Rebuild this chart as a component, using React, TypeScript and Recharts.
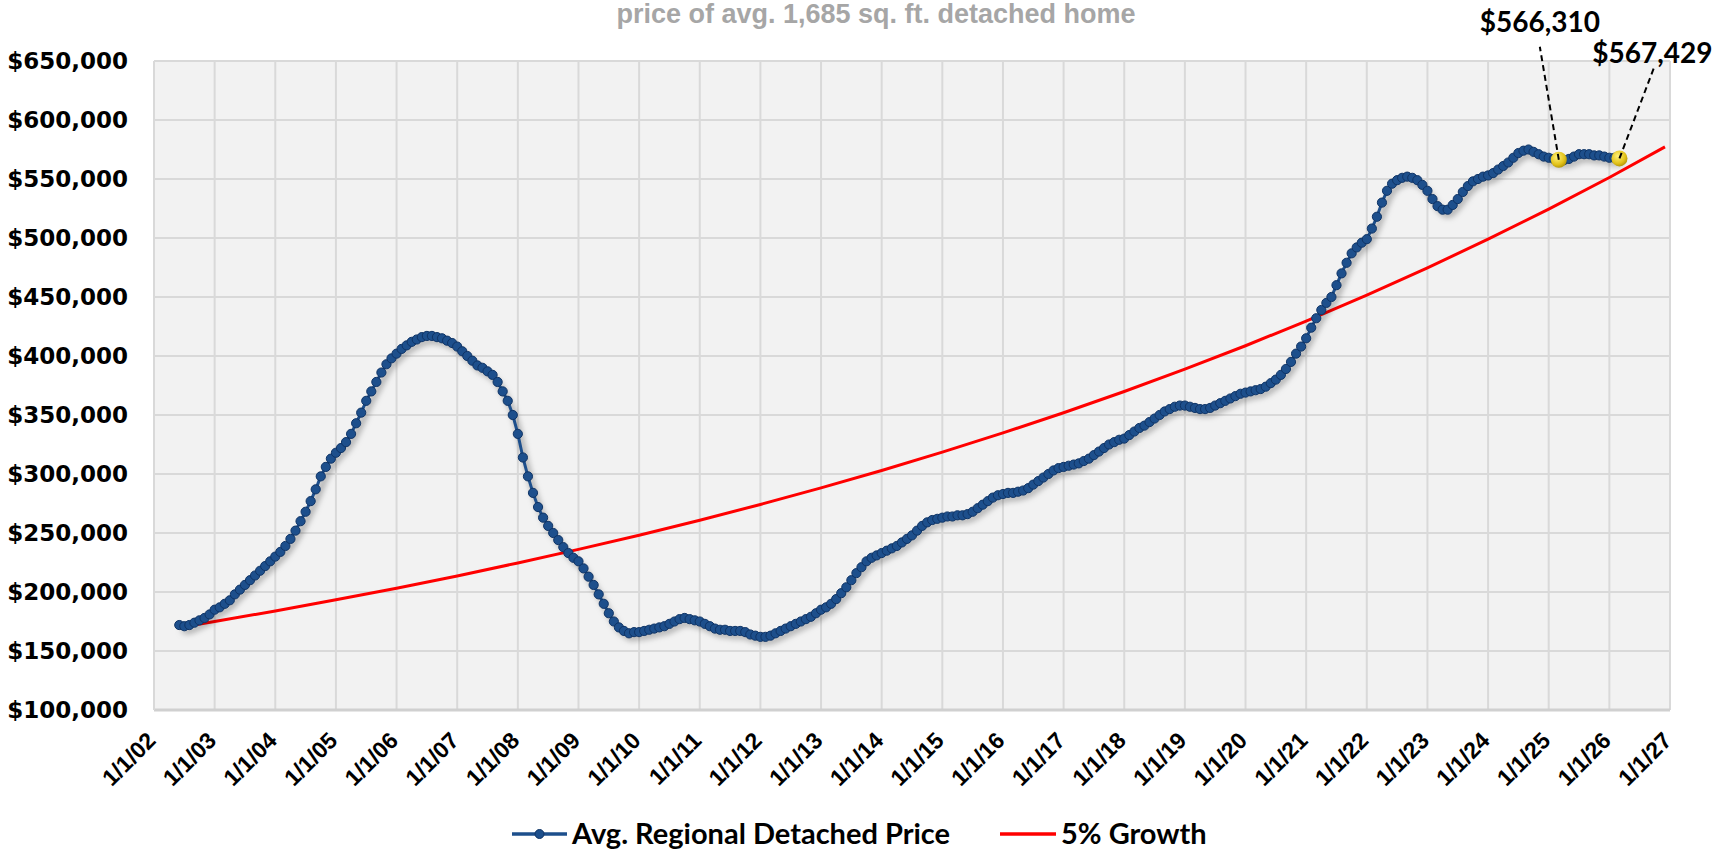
import React from 'react';
import { LineChart, Line, XAxis, YAxis, CartesianGrid } from 'recharts';

const TITLE = 'price of avg. 1,685 sq. ft. detached home';
const SERIES_PRICE = 'Avg. Regional Detached Price';
const SERIES_GROWTH = '5% Growth';

// monthly series, first value = June 2002
const START_YEAR = 2002;
const START_MONTH = 6;
const priceK = [
  172, 171, 172, 174, 176, 178, 181,
  185, 187, 190, 193, 198, 202, 206, 210, 214, 218, 222, 226,
  230, 234, 239, 245, 252, 260, 268, 277, 287, 298, 306, 313,
  318, 322, 327, 334, 343, 352, 362, 370, 378, 386, 393, 398,
  402, 406, 409, 412, 414, 416, 417, 417, 416, 415, 413, 411,
  408, 404, 400, 396, 392, 390, 387, 384, 378, 370, 362, 350,
  334, 314, 298, 284, 272, 263, 256, 250, 244, 238, 233, 229,
  226, 220, 213, 206, 198, 190, 182, 175, 170, 167, 165, 166,
  166, 167, 168, 169, 170, 171, 173, 175, 177, 178, 177, 176,
  175, 173, 171, 169, 168, 168, 167, 167, 167, 166, 164, 163,
  162, 162, 163, 165, 167, 169, 171, 173, 175, 177, 179, 182,
  185, 187, 190, 194, 199, 204, 210, 216, 221, 226, 229, 231,
  233, 235, 237, 239, 242, 245, 248, 252, 256, 259, 261, 262,
  263, 264, 264, 265, 265, 266, 268, 271, 274, 277, 280, 282,
  283, 284, 284, 285, 286, 288, 291, 294, 297, 300, 303, 305,
  306, 307, 308, 309, 311, 313, 316, 319, 322, 325, 327, 329,
  330, 333, 336, 339, 341, 344, 347, 350, 353, 355, 357, 358,
  358, 357, 356, 355, 355, 356, 358, 360, 362, 364, 366, 368,
  369, 370, 371, 372, 374, 377, 380, 384, 389, 395, 402, 408,
  415, 424, 432, 439, 445, 450, 460, 470, 479, 487, 492, 496,
  499, 508, 518, 530, 540, 546, 549, 551, 552, 551, 549, 545,
  540, 533, 527, 524, 524, 528, 533, 539, 544, 548, 550, 552,
  553, 555, 558, 561, 564, 568, 572, 574, 575, 573, 571, 569,
  568, 567, 566.31, 566, 567, 569, 571, 571, 571, 570, 570, 569,
  568, 568, 567.429,
];

const growthYears = [2002.417, 2003, 2004, 2005, 2006, 2007, 2008, 2009, 2010, 2011, 2012, 2013, 2014, 2015, 2016, 2017, 2018, 2019, 2020, 2021, 2022, 2023, 2024, 2025, 2026, 2026.917];
const growthK = [170.0, 175.0, 183.9, 193.4, 203.2, 213.6, 224.6, 236.1, 248.1, 260.8, 274.2, 288.2, 303.0, 318.5, 334.8, 351.9, 369.9, 388.8, 408.7, 429.6, 451.6, 474.7, 499.0, 524.5, 551.3, 577.2];

const xTickYears = [2002, 2003, 2004, 2005, 2006, 2007, 2008, 2009, 2010, 2011, 2012, 2013, 2014, 2015, 2016, 2017, 2018, 2019, 2020, 2021, 2022, 2023, 2024, 2025, 2026, 2027];
const yTicks = [100000, 150000, 200000, 250000, 300000, 350000, 400000, 450000, 500000, 550000, 600000, 650000];

const highlightMonths = ['2025-03', '2026-03'];
const highlightLabels = ['$566,310', '$567,429'];

const priceData = priceK.map((v, i) => {
  const m0 = START_MONTH - 1 + i;
  const year = START_YEAR + Math.floor(m0 / 12);
  const month = (m0 % 12) + 1;
  const key = `${year}-${String(month).padStart(2, '0')}`;
  const hi = highlightMonths.indexOf(key);
  return {
    x: year + (month - 1) / 12,
    price: v * 1000,
    hl: hi >= 0 ? v * 1000 : null,
    hlIndex: hi,
  };
});

const growthData = growthYears.map((x, i) => ({ x, growth: growthK[i] * 1000 }));

const BLUE = '#1d4f8c';
const BLUE_EDGE = '#0f3466';
const RED = '#ff0000';

const fmtMoney = (v: number) => '$' + v.toLocaleString('en-US');
const fmtYear = (y: number) => `1/1/${String(y % 100).padStart(2, '0')}`;

const YTick = (props: any) => {
  const { x, y, payload } = props;
  return (
    <text x={x - 26} y={y} textAnchor="end" dominantBaseline="central"
      fontFamily="DejaVu Sans" fontWeight="bold" fontSize={23} fill="#000">
      {fmtMoney(payload.value)}
    </text>
  );
};

const XTick = (props: any) => {
  const { x, y, payload } = props;
  return (
    <text transform={`translate(${x + 3},${y + 32}) rotate(-45)`} textAnchor="end"
      fontFamily="Liberation Sans" fontWeight="bold" fontSize={23} fill="#000">
      {fmtYear(payload.value)}
    </text>
  );
};

const PriceDot = (props: any) => {
  const { cx, cy, index } = props;
  if (cx == null || cy == null) return <g key={`pd${index}`} />;
  return <circle key={`pd${index}`} cx={cx} cy={cy} r={4.6} fill={BLUE} stroke={BLUE_EDGE} strokeWidth={1} />;
};

const annotationOffsets = [
  { lx: -19, ly: -113, tx: -19, ty: -128 },
  { lx: 35, ly: -92, tx: 33, ty: -95 },
];

const HighlightDot = (props: any) => {
  const { cx, cy, index, payload } = props;
  if (cx == null || cy == null || payload.hlIndex < 0) return <g key={`hd${index}`} />;
  const o = annotationOffsets[payload.hlIndex];
  return (
    <g key={`hd${index}`}>
      <defs>
        <radialGradient id={`yg${index}`} cx="40%" cy="35%" r="65%">
          <stop offset="0%" stopColor="#fff27a" />
          <stop offset="70%" stopColor="#e2c21a" />
          <stop offset="100%" stopColor="#b89a08" />
        </radialGradient>
      </defs>
      <circle cx={cx} cy={cy} r={8} fill={`url(#yg${index})`} />
      <line x1={cx} y1={cy} x2={cx + o.lx} y2={cy + o.ly} stroke="#000" strokeWidth={2} strokeDasharray="6 4" />
      <text x={cx + o.tx} y={cy + o.ty} textAnchor="middle" fontFamily="Lato" fontWeight="bold" fontSize={28} fill="#000">
        {highlightLabels[payload.hlIndex]}
      </text>
    </g>
  );
};

export default function App() {
  return (
    <div style={{ position: 'fixed', left: 0, top: 0, width: 1728, height: 851, background: '#fff', overflow: 'hidden' }}>
      <style>{`.price-line { filter: drop-shadow(3px 5px 3px rgba(0,0,0,0.55)); }`}</style>
      <LineChart width={1728} height={851} margin={{ top: 61, right: 58, left: 0, bottom: 0 }}>
        <CartesianGrid fill="#f2f2f2" stroke="#d9d9d9" strokeWidth={2} />
        <XAxis type="number" dataKey="x" domain={[2002, 2027]} ticks={xTickYears} height={141}
          tick={<XTick />} tickLine={false} tickSize={0} tickMargin={0} interval={0}
          axisLine={{ stroke: '#d0d0d0', strokeWidth: 3 }} />
        <YAxis type="number" domain={[100000, 650000]} ticks={yTicks} width={154}
          tick={<YTick />} tickLine={false} tickSize={0} tickMargin={0}
          axisLine={{ stroke: '#d9d9d9', strokeWidth: 2 }} interval={0} />
        <Line data={growthData} dataKey="growth" name={SERIES_GROWTH} type="linear" stroke={RED}
          strokeWidth={3} dot={false} activeDot={false} isAnimationActive={false} />
        <Line data={priceData} dataKey="price" name={SERIES_PRICE} type="linear" stroke={BLUE}
          strokeWidth={3} dot={<PriceDot />} activeDot={false} isAnimationActive={false} className="price-line" />
        <Line data={priceData} dataKey="hl" type="linear" stroke="none" legendType="none"
          dot={<HighlightDot />} activeDot={false} isAnimationActive={false} />
      </LineChart>
      <svg width={1728} height={851} style={{ position: 'absolute', left: 0, top: 0, pointerEvents: 'none' }}>
        <text x={876} y={23} textAnchor="middle" fontFamily="Liberation Sans" fontWeight="bold" fontSize={27} fill="#a6a6a6">
          {TITLE}
        </text>
        <line x1={512} y1={834} x2={567} y2={834} stroke={BLUE} strokeWidth={3.5} />
        <circle cx={539.5} cy={834} r={4.5} fill={BLUE} stroke={BLUE_EDGE} />
        <text x={572} y={844} fontFamily="Lato" fontWeight="bold" fontSize={29} fill="#000">{SERIES_PRICE}</text>
        <line x1={1000} y1={834} x2={1056} y2={834} stroke={RED} strokeWidth={3.5} />
        <text x={1061} y={844} fontFamily="Lato" fontWeight="bold" fontSize={29} fill="#000">{SERIES_GROWTH}</text>
      </svg>
    </div>
  );
}
